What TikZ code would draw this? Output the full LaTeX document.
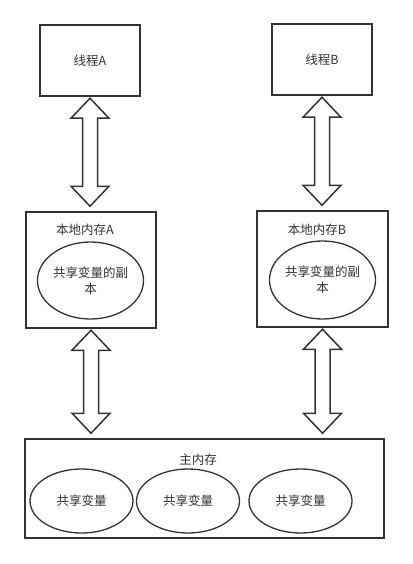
\documentclass[tikz,border=0pt]{standalone}
\usepackage{fontspec}
\setmainfont{Noto Sans CJK SC}
\usetikzlibrary{shapes.geometric,calc}
\definecolor{ln}{HTML}{333333}
\tikzset{
  box/.style={draw=ln, line width=1.5pt, rectangle, inner sep=0pt, text=ln, font=\fontsize{12.5}{16}\selectfont},
  oval/.style={draw=ln, line width=1.3pt, ellipse, inner sep=0pt, text=ln, align=center, font=\fontsize{12.5}{16}\selectfont},
  lbl/.style={inner sep=0pt, text=ln, font=\fontsize{12.5}{16}\selectfont},
  arrowshape/.style={draw=ln, line width=1.5pt, fill=white, line join=miter}
}
\newcommand{\dblarrow}[2]{%
  \draw[arrowshape] let \p1=($(#1.south)+(0,-1.5)$), \p2=($(#2.north)+(0,5)$) in
   (\x1,\y1) -- (\x1+19pt,\y1-20pt) -- (\x1+7.5pt,\y1-20pt) -- (\x1+7.5pt,\y2+20pt)
   -- (\x1+19pt,\y2+20pt) -- (\x1,\y2) -- (\x1-19pt,\y2+20pt) -- (\x1-7.5pt,\y2+20pt)
   -- (\x1-7.5pt,\y1-20pt) -- (\x1-19pt,\y1-20pt) -- cycle;}
\begin{document}
\begin{tikzpicture}[x=1pt,y=1pt]
\useasboundingbox (0,0) rectangle (412,-564);
\node[box, minimum width=100pt, minimum height=71pt] (thA) at (90,-60.5) {线程A};
\node[box, minimum width=100pt, minimum height=71pt] (thB) at (322,-59.5) {线程B};
\node[box, minimum width=130pt, minimum height=116pt] (locA) at (91,-270) {};
\node[box, minimum width=131pt, minimum height=116pt] (locB) at (322.5,-269) {};
\node[lbl] (locAl) at (85,-230) {本地内存A};
\node[lbl] (locBl) at (317,-230) {本地内存B};
\node[oval, minimum width=101pt, minimum height=77pt] (ellA) at (90.5,-280.5) {共享变量的副\\本};
\node[oval, minimum width=101pt, minimum height=78pt] (ellB) at (322.5,-280) {共享变量的副\\本};
\node[box, minimum width=359pt, minimum height=99pt] (main) at (204.5,-488.5) {};
\node[lbl] (mainl) at (198,-460) {主内存};
\node[oval, minimum width=103pt, minimum height=64pt] (e1) at (81.5,-501) {共享变量};
\node[oval, minimum width=103pt, minimum height=64pt] (e2) at (188,-501) {共享变量};
\node[oval, minimum width=103pt, minimum height=64pt] (e3) at (300.5,-501) {共享变量};
\dblarrow{thA}{locA}
\dblarrow{thB}{locB}
\dblarrow{locA}{main}
\dblarrow{locB}{main}
\end{tikzpicture}
\end{document}
